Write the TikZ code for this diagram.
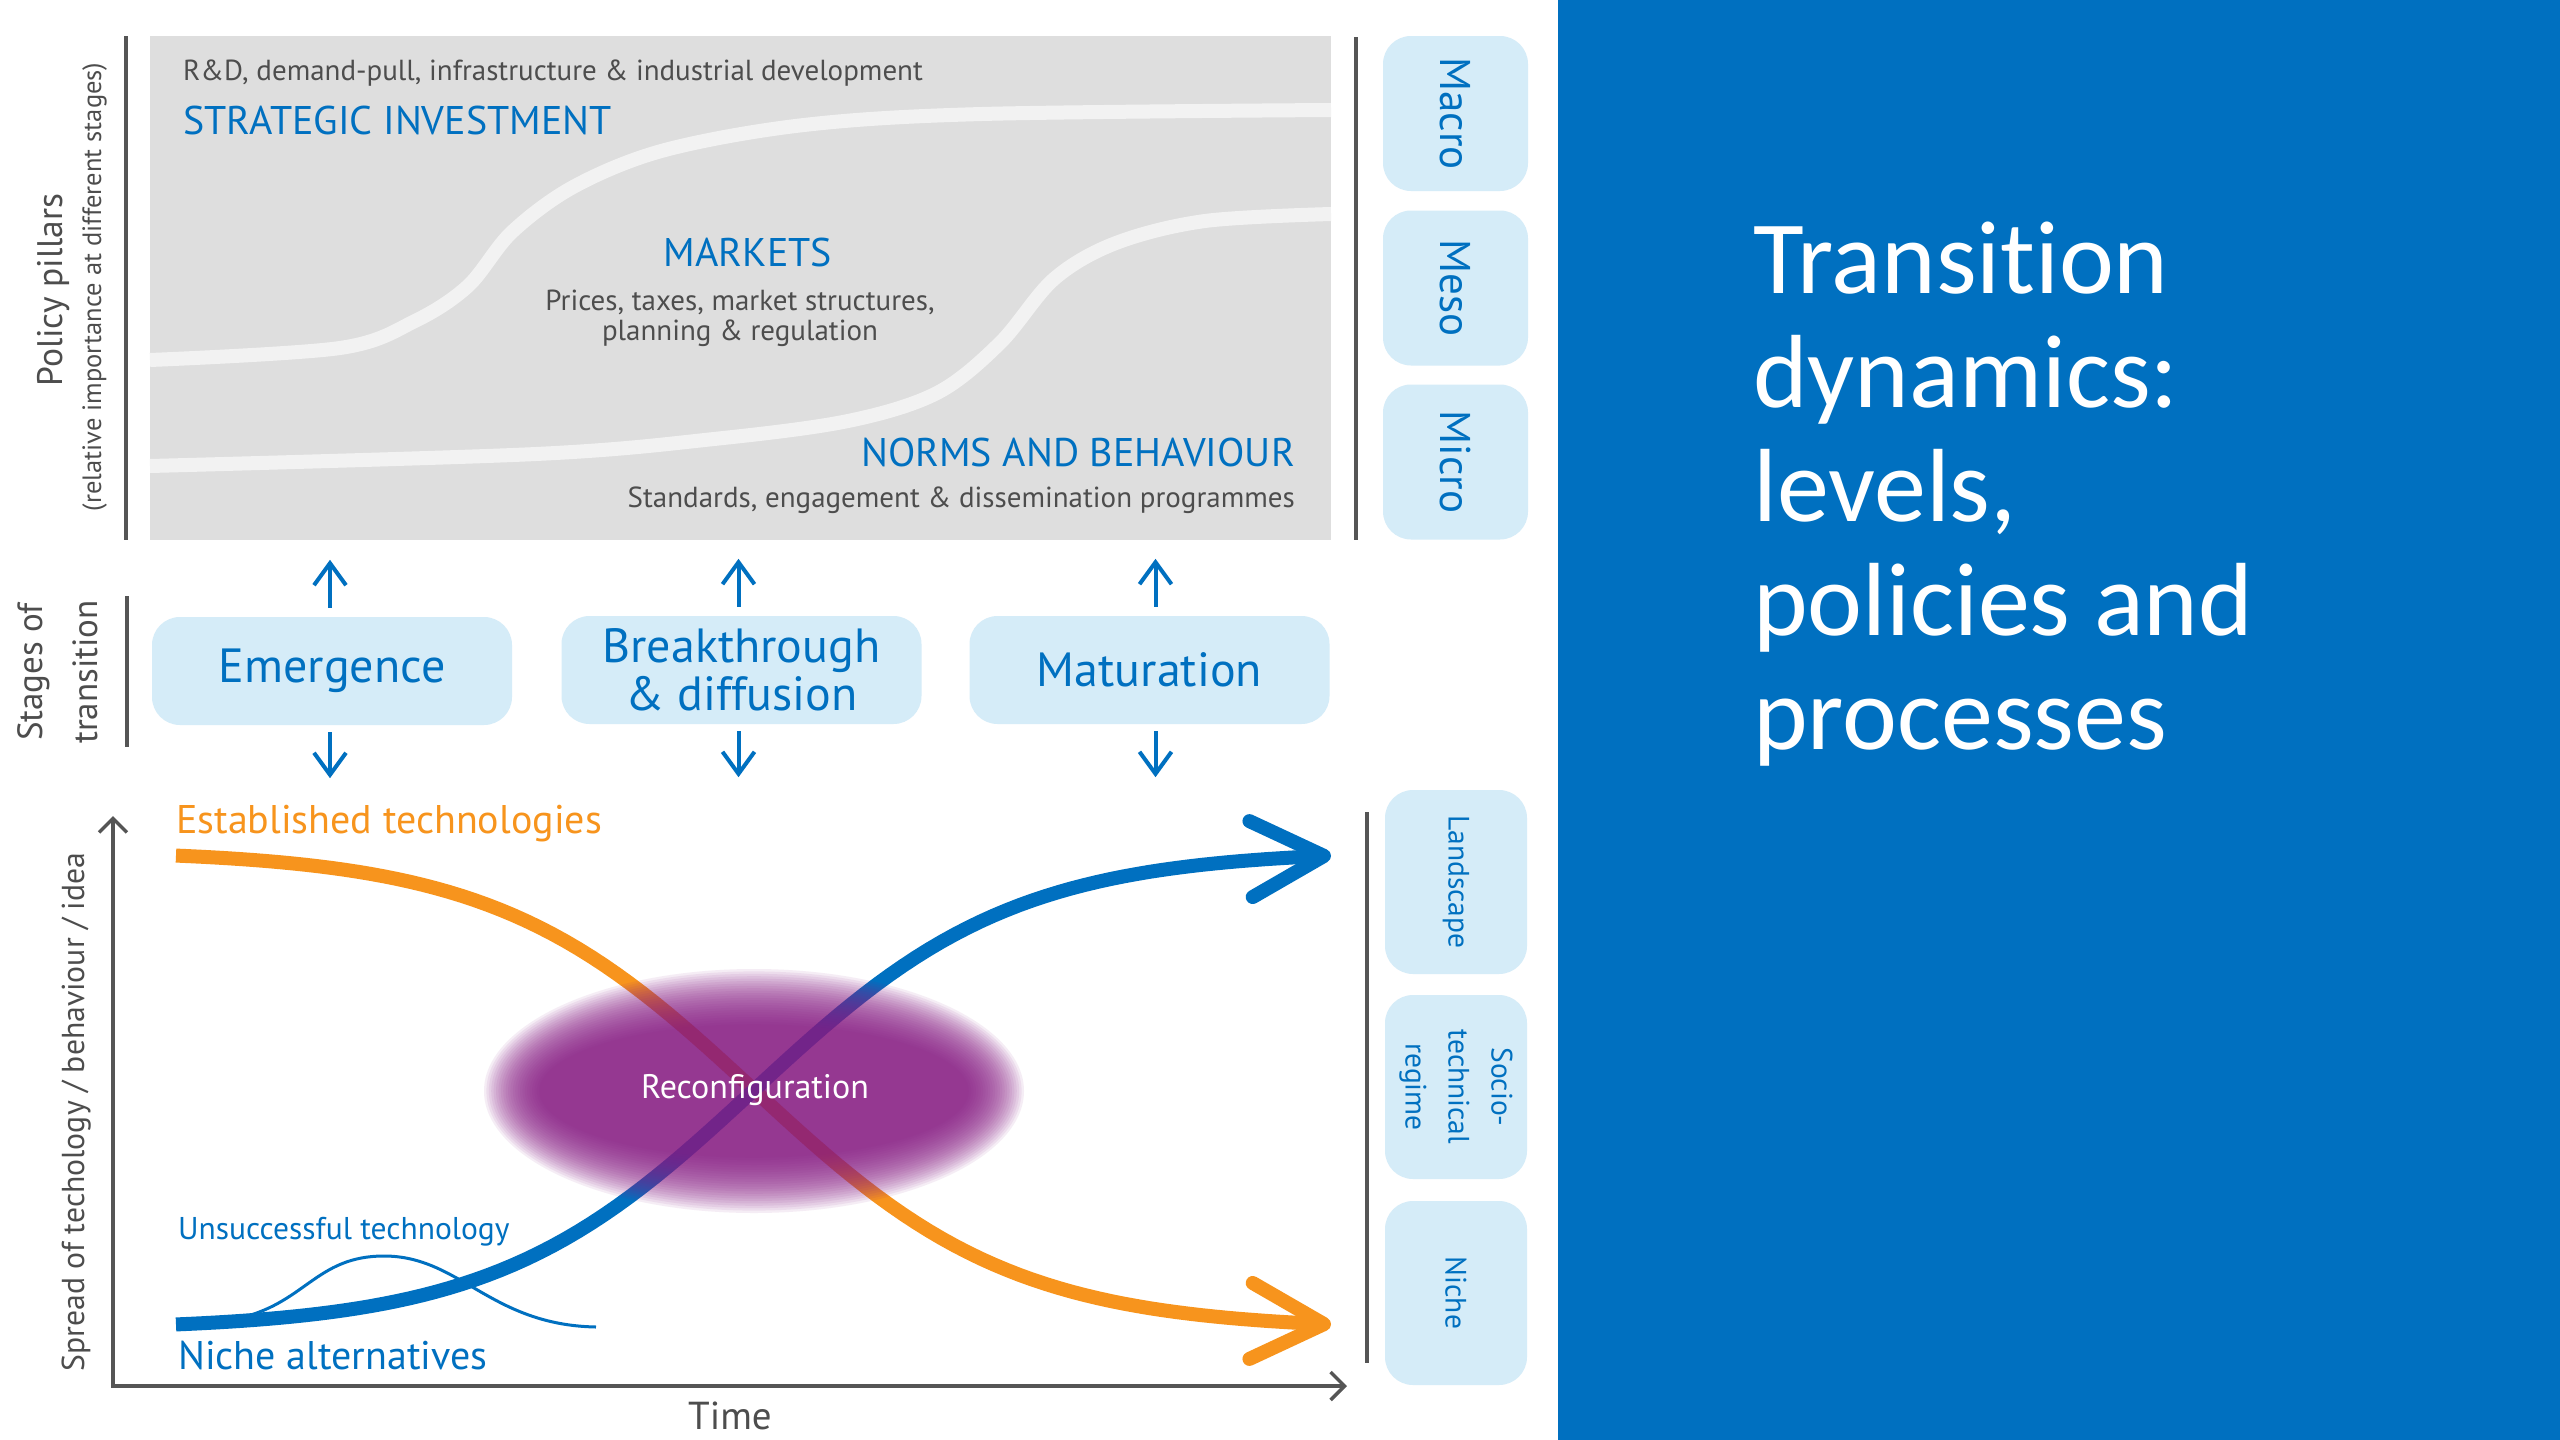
\documentclass[tikz,border=0pt]{standalone}
\usepackage{fontspec}
\setmainfont{PT Sans}
\newfontfamily\titlefont[Ligatures=NoCommon]{Carlito}
\usetikzlibrary{arrows.meta}

\definecolor{tdblue}{RGB}{0,112,192}
\definecolor{tdbox}{RGB}{213,236,248}
\definecolor{tdgray}{RGB}{222,222,222}
\definecolor{tdband}{RGB}{242,242,242}
\definecolor{tdtext}{RGB}{77,77,77}
\definecolor{tdaxis}{RGB}{85,85,85}
\definecolor{tdorange}{RGB}{247,148,29}
\definecolor{tdpurple}{RGB}{138,29,134}

\newcommand{\fs}[2]{\fontsize{#1}{#2}\selectfont}

\tikzset{
  level/.style={fill=tdbox, rounded corners=28pt, text=tdblue, inner sep=0pt, align=center},
  stagebox/.style={level, minimum width=360pt, minimum height=108pt, font=\fs{48}{48}},
  upperlevel/.style={level, rotate=-90, minimum width=155pt, minimum height=145pt, font=\fs{43}{46}},
  lowerlevel/.style={level, rotate=-90, minimum width=184pt, minimum height=142pt, font=\fs{29.5}{43}},
  band/.style={tdband, line width=14pt},
  pillar/.style={text=tdblue, font=\fs{40}{44}, inner sep=0pt},
  pillarnote/.style={text=tdtext, font=\fs{29}{30}, inner sep=0pt},
  sidelabel/.style={text=tdtext, rotate=90, inner sep=0pt, align=center},
  bracket/.style={tdaxis, line width=4.5pt},
  stagearrow/.style={tdblue, line width=4pt, -{Straight Barb[length=22pt, width=32pt]}},
  axis/.style={tdaxis, line width=3.5pt,
    {Straight Barb[length=14pt, width=28pt]}-{Straight Barb[length=14pt, width=28pt]}},
  spread/.style={line width=14pt, -{Straight Barb[length=73pt, width=76pt, round]}},
}

\begin{document}
\begin{tikzpicture}[x=1pt, y=-1pt]
  \useasboundingbox (0,0) rectangle (2560,1440);
  \fill[white] (0,0) rectangle (1558,1440);
  \fill[tdblue] (1558,0) rectangle (2560,1440);

  % policy pillars panel
  \fill[tdgray] (150,36) rectangle (1331,540);
  \draw[band] plot[smooth, tension=0.55] coordinates {(150,360) (340,348) (415,321) (468,286)
    (512,232) (575,186) (665,150) (804,125) (982,114) (1331,110)};
  \draw[band] plot[smooth, tension=0.55] coordinates {(150,466) (536,454) (714,439) (848,421)
    (937,393) (1000,343) (1054,279) (1116,243) (1205,221) (1331,214)};

  \node[pillarnote, anchor=base west] (rd) at (183,80) {R\&D, demand-pull, infrastructure \& industrial development};
  \node[pillar, anchor=base west] (strategic) at (183,134) {STRATEGIC INVESTMENT};
  \node[pillar, anchor=base] (markets) at (748,266) {MARKETS};
  \node[pillarnote, align=center] (prices) at (740,318) {Prices, taxes, market structures,\\planning \& regulation};
  \node[pillar, anchor=base east] (norms) at (1295,466) {NORMS AND BEHAVIOUR};
  \node[pillarnote, anchor=base east] (standards) at (1295,507) {Standards, engagement \& dissemination programmes};

  \draw[bracket] (126,36) -- (126,540);
  \draw[bracket] (1356,37) -- (1356,540);
  \node[sidelabel, font=\fs{35.5}{40}, anchor=base] (pillars) at (62,290) {Policy pillars};
  \node[sidelabel, font=\fs{26.5}{30}, anchor=base] (pillarsnote) at (101,287) {(relative importance at different stages)};

  \node[upperlevel] (macro) at (1455.5,113.5) {Macro};
  \node[upperlevel] (meso) at (1455.5,288) {Meso};
  \node[upperlevel] (micro) at (1455.5,462) {Micro};

  % stages of transition
  \draw[bracket] (127,596) -- (127,747);
  \node[sidelabel, font=\fs{35}{55}] (stages) at (58,672) {Stages of\\transition};

  \node[stagebox] (emerge) at (332,671) {Emergence};
  \node[stagebox] (breakthru) at (741.5,670) {Breakthrough\\\& diffusion};
  \node[stagebox] (mature) at (1149.5,670) {Maturation};
  \foreach \s/\dx in {emerge/-2, breakthru/-3, mature/6}{
    \draw[stagearrow] ([shift={(\dx pt,9pt)}]\s.north) -- ([shift={(\dx pt,57pt)}]\s.north);
    \draw[stagearrow] ([shift={(\dx pt,-7pt)}]\s.south) -- ([shift={(\dx pt,-53pt)}]\s.south);
  }

  % spread over time
  \coordinate (ytop) at (113,816);
  \coordinate (origin) at (113,1386);
  \coordinate (xend) at (1347,1386);
  \draw[axis] (ytop) -- (origin) -- (xend);
  \node[text=tdtext, font=\fs{39}{40}, inner sep=0pt, anchor=base] (time) at (730,1429) {Time};
  \node[sidelabel, font=\fs{31.7}{34}, anchor=base] (spread) at (84,1112) {Spread of techology / behaviour / idea};

  \draw[spread, tdorange] plot[domain=176:1331, samples=90] (\x, {850 + 480/(1+exp(-(\x-754)/130))});
  \draw[spread, tdblue] plot[domain=176:1331, samples=90] (\x, {1330 - 480/(1+exp(-(\x-754)/130))});
  \draw[tdblue, line width=3pt] (235,1319) .. controls (305,1305) and (315,1256) .. (384,1256)
    .. controls (460,1256) and (490,1325) .. (596,1327);

  % reconfiguration cloud, soft edge built from thin rings
  \foreach \r in {0,...,23}
    \fill[tdpurple, fill opacity=0.08] (754,1091) ellipse [x radius={270-2.4*\r}, y radius={122-2.4*\r}];
  \node[text=white, font=\fs{34}{36}] (reconfig) at (755,1090) {Reconfiguration};

  \node[text=tdorange, font=\fs{40}{44}, inner sep=0pt, anchor=base west] (established) at (176,833) {Established technologies};
  \node[text=tdblue, font=\fs{31.5}{34}, inner sep=0pt, anchor=base west] (unsuccessful) at (178,1239) {Unsuccessful technology};
  \node[text=tdblue, font=\fs{40}{44}, inner sep=0pt, anchor=base west] (nichealt) at (178,1369) {Niche alternatives};

  \draw[bracket] (1367,812) -- (1367,1363);
  \node[lowerlevel] (landscape) at (1456,882) {Landscape};
  \node[lowerlevel] (regime) at (1456,1087) {Socio-\\technical\\regime};
  \node[lowerlevel] (niche) at (1456,1293) {Niche};

  % slide title
  \node[text=white, font=\titlefont\fs{104}{114}, align=left, inner sep=0pt, anchor=north west] (title)
    at (1753,222) {Transition\\dynamics:\\levels,\\policies and\\processes};
\end{tikzpicture}
\end{document}
